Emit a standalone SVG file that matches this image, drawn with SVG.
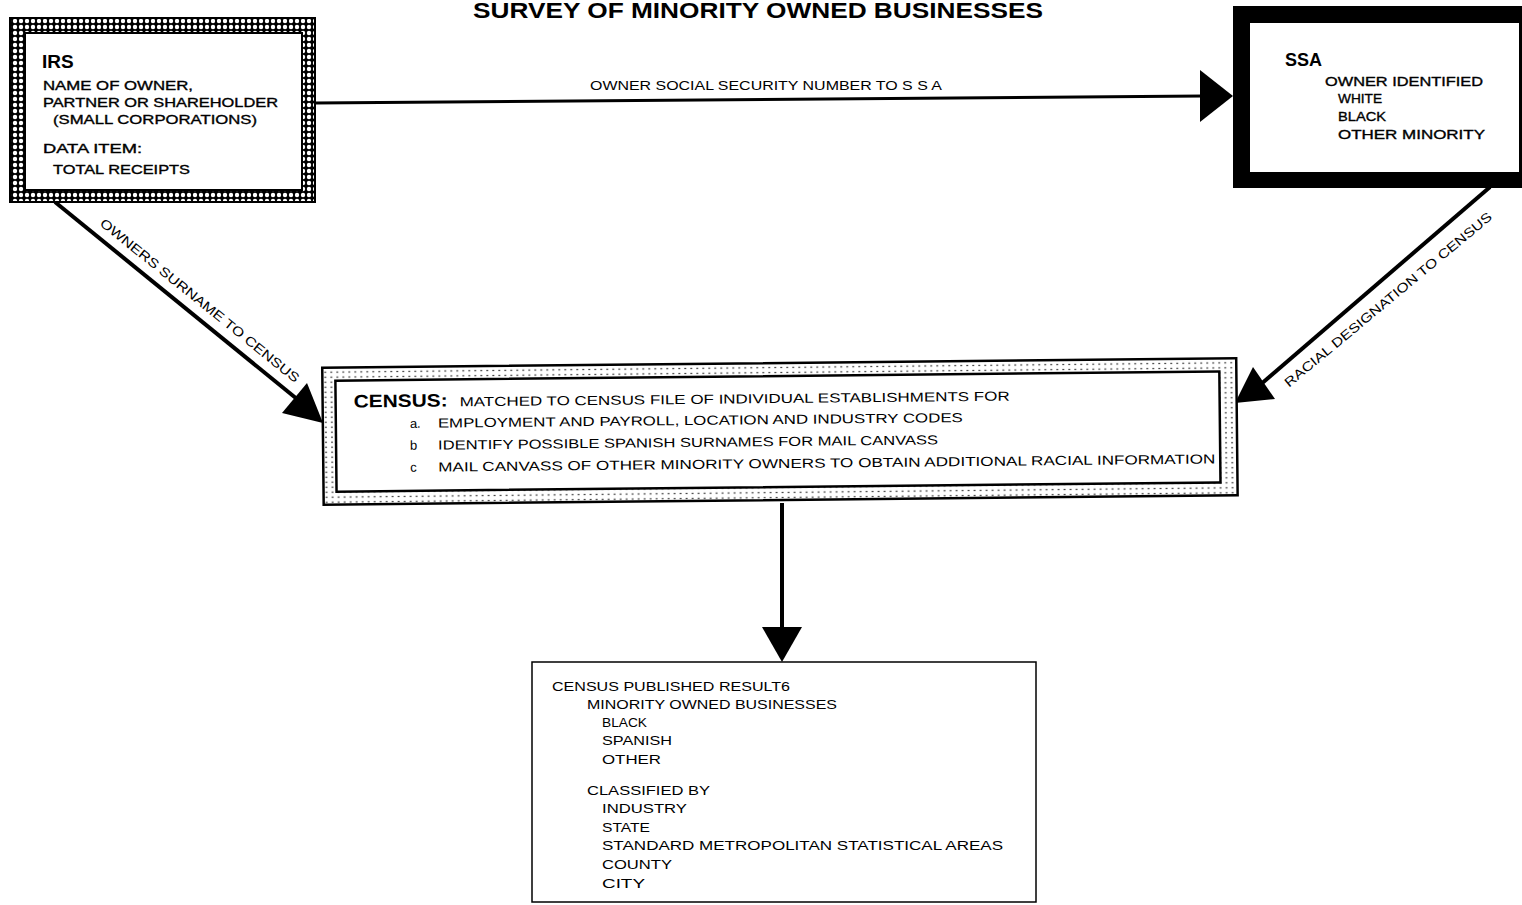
<svg xmlns="http://www.w3.org/2000/svg" width="1522" height="905" viewBox="0 0 1522 905">
<style>
.t{font-family:"Liberation Sans",Arial,sans-serif;font-size:13px;fill:#000}
.m{stroke:#000;stroke-width:0.35px}
.b{font-family:"Liberation Sans",Arial,sans-serif;font-weight:bold;fill:#000}
.ln{stroke:#000;fill:none}
.ah{fill:#000}
</style>
<defs>
<pattern id="chain" width="6" height="6" patternUnits="userSpaceOnUse">
<rect width="6" height="6" fill="#000"/>
<circle cx="3" cy="3" r="2.2" fill="#fff"/>
</pattern>
<pattern id="dots" width="6" height="5" patternUnits="userSpaceOnUse">
<rect width="6" height="5" fill="#fff"/>
<circle cx="2" cy="2.5" r="0.8" fill="#000"/>
</pattern>
</defs>
<rect width="1522" height="905" fill="#fff"/>
<text id="title" class="b" x="473" y="18" font-size="22" textLength="570" lengthAdjust="spacingAndGlyphs">SURVEY OF MINORITY OWNED BUSINESSES</text>

<g id="connectors">
<path class="ln" stroke-width="3" d="M315,103 L1203,96"/>
<polygon class="ah" points="1200,70 1233,96 1200,122"/>
<text class="t" x="590" y="90" font-size="12" textLength="352" lengthAdjust="spacingAndGlyphs">OWNER SOCIAL SECURITY NUMBER TO S S A</text>
<path class="ln" stroke-width="4" d="M55,202 L297,399"/>
<polygon class="ah" points="307,383 323,423 282,413"/>
<text class="t" font-size="12" text-anchor="middle" textLength="252" lengthAdjust="spacingAndGlyphs" transform="translate(197,304) rotate(39)">OWNERS SURNAME TO CENSUS</text>
<path class="ln" stroke-width="4" d="M1490,187 L1260,385"/>
<polygon class="ah" points="1253,367 1235,403 1275,399"/>
<text class="t" font-size="12" text-anchor="middle" textLength="265" lengthAdjust="spacingAndGlyphs" transform="translate(1391,303) rotate(-39.7)">RACIAL DESIGNATION TO CENSUS</text>
<path class="ln" stroke-width="4" d="M782,503 L782,630"/>
<polygon class="ah" points="762,627 802,627 782,662"/>
</g>

<g id="irs">
<rect x="10" y="18" width="305" height="184" fill="url(#chain)" stroke="#000" stroke-width="2"/>
<rect x="25" y="33" width="277" height="157" fill="#fff" stroke="#000" stroke-width="2"/>
<text class="b" x="42" y="68" font-size="19">IRS</text>
<text class="t m" x="43" y="90" textLength="150" lengthAdjust="spacingAndGlyphs">NAME OF OWNER,</text>
<text class="t m" x="43" y="107" textLength="235" lengthAdjust="spacingAndGlyphs">PARTNER OR SHAREHOLDER</text>
<text class="t m" x="53" y="124" textLength="204" lengthAdjust="spacingAndGlyphs">(SMALL CORPORATIONS)</text>
<text class="t m" x="43" y="153" textLength="99" lengthAdjust="spacingAndGlyphs">DATA ITEM:</text>
<text class="t m" x="53" y="174" textLength="137" lengthAdjust="spacingAndGlyphs">TOTAL RECEIPTS</text>
</g>

<g id="ssa">
<rect x="1233" y="6" width="302" height="182" fill="#000"/>
<rect x="1250" y="23" width="269" height="149" fill="#fff"/>
<text class="b" x="1285" y="66" font-size="18">SSA</text>
<text class="t m" x="1325" y="86" font-size="12" textLength="158" lengthAdjust="spacingAndGlyphs">OWNER IDENTIFIED</text>
<text class="t m" x="1338" y="103" font-size="12" textLength="44" lengthAdjust="spacingAndGlyphs">WHITE</text>
<text class="t m" x="1338" y="121" font-size="12" textLength="48" lengthAdjust="spacingAndGlyphs">BLACK</text>
<text class="t m" x="1338" y="139" font-size="12" textLength="147" lengthAdjust="spacingAndGlyphs">OTHER MINORITY</text>
</g>

<g id="census" transform="rotate(-0.6 780 437)">
<rect x="323" y="363" width="914" height="137" fill="url(#dots)" stroke="#000" stroke-width="2.5"/>
<rect x="336" y="376" width="884" height="111" fill="#fff" stroke="#000" stroke-width="2.5"/>
<text class="b" x="354" y="403" font-size="18" textLength="94" lengthAdjust="spacingAndGlyphs">CENSUS:</text>
<text class="t" x="460" y="403" textLength="550" lengthAdjust="spacingAndGlyphs">MATCHED TO CENSUS FILE OF INDIVIDUAL ESTABLISHMENTS FOR</text>
<text class="t" x="410" y="424">a.</text>
<text class="t" x="438" y="424" textLength="525" lengthAdjust="spacingAndGlyphs">EMPLOYMENT AND PAYROLL, LOCATION AND INDUSTRY CODES</text>
<text class="t" x="410" y="446">b</text>
<text class="t" x="438" y="446" textLength="500" lengthAdjust="spacingAndGlyphs">IDENTIFY POSSIBLE SPANISH SURNAMES FOR MAIL CANVASS</text>
<text class="t" x="410" y="468">c</text>
<text class="t" x="438" y="468" textLength="777" lengthAdjust="spacingAndGlyphs">MAIL CANVASS OF OTHER MINORITY OWNERS TO OBTAIN ADDITIONAL RACIAL INFORMATION</text>
</g>

<g id="results">
<rect x="532" y="662" width="504" height="240" fill="#fff" stroke="#000" stroke-width="1.5"/>
<text class="t" x="552" y="691" textLength="238" lengthAdjust="spacingAndGlyphs">CENSUS PUBLISHED RESULT6</text>
<text class="t" x="587" y="709" textLength="250" lengthAdjust="spacingAndGlyphs">MINORITY OWNED BUSINESSES</text>
<text class="t" x="602" y="727" textLength="45" lengthAdjust="spacingAndGlyphs">BLACK</text>
<text class="t" x="602" y="745" textLength="70" lengthAdjust="spacingAndGlyphs">SPANISH</text>
<text class="t" x="602" y="764" textLength="59" lengthAdjust="spacingAndGlyphs">OTHER</text>
<text class="t" x="587" y="795" textLength="123" lengthAdjust="spacingAndGlyphs">CLASSIFIED BY</text>
<text class="t" x="602" y="813" textLength="85" lengthAdjust="spacingAndGlyphs">INDUSTRY</text>
<text class="t" x="602" y="832" textLength="48" lengthAdjust="spacingAndGlyphs">STATE</text>
<text class="t" x="602" y="850" textLength="401" lengthAdjust="spacingAndGlyphs">STANDARD METROPOLITAN STATISTICAL AREAS</text>
<text class="t" x="602" y="869" textLength="70" lengthAdjust="spacingAndGlyphs">COUNTY</text>
<text class="t" x="602" y="888" textLength="43" lengthAdjust="spacingAndGlyphs">CITY</text>
</g>
</svg>
